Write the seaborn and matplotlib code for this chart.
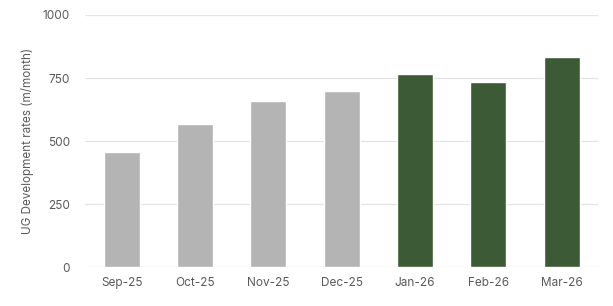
import matplotlib
matplotlib.use("Agg")
import matplotlib.pyplot as plt
import seaborn as sns
import pandas as pd

months = ["Sep-25", "Oct-25", "Nov-25", "Dec-25", "Jan-26", "Feb-26", "Mar-26"]
rates = [456, 567, 659, 698, 766, 734, 834]
period = ["actual", "actual", "actual", "actual", "forecast", "forecast", "forecast"]
yticks = [0, 250, 500, 750, 1000]

palette = {"actual": "#b4b4b4", "forecast": "#3c5a35"}

sns.set_theme(style="white")
plt.rcParams["font.family"] = ["Inter", "DejaVu Sans"]

df = pd.DataFrame({"month": months, "rate": rates, "period": period})

fig = plt.figure(figsize=(6.13, 3.06), dpi=100)
ax = fig.add_axes([0.139, 0.127, 0.837, 0.824])
sns.barplot(data=df, x="month", y="rate", hue="period", palette=palette,
            dodge=False, width=0.49, legend=False, ax=ax, saturation=1)
ax.set_ylim(0, 1000)
ax.set_yticks(yticks)
ax.set_yticklabels([str(t) for t in yticks])
ax.set_xlim(-0.5, len(months) - 0.5)
ax.grid(axis="y", color="#e4e4e4", linewidth=0.9)
ax.set_axisbelow(True)
for s in ax.spines.values():
    s.set_visible(False)
ax.tick_params(axis="both", length=0, labelsize=8.5, colors="#595959")
ax.tick_params(axis="y", pad=11)
ax.tick_params(axis="x", pad=7)
ax.set_xlabel("")
ax.set_ylabel("UG Development rates (m/month)", fontsize=8.4, color="#595959", labelpad=6)
fig.savefig("out.png", dpi=100)
